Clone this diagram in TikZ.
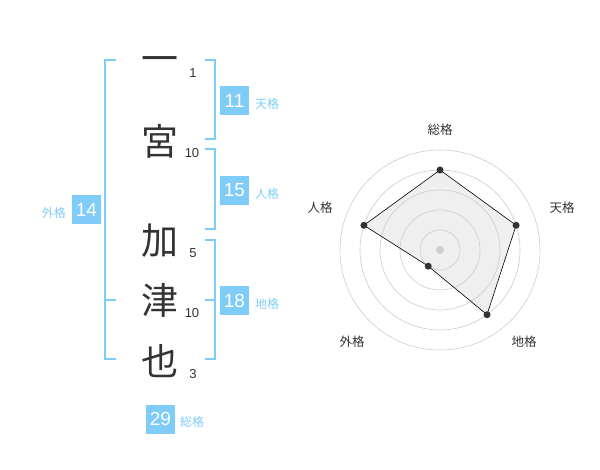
\documentclass[tikz,border=0pt]{standalone}
\usepackage{fontspec}
\setmainfont{Liberation Sans}
\newfontfamily\jpfont{Noto Sans CJK JP}
\definecolor{accent}{HTML}{80CCF8}
\definecolor{ink}{HTML}{333333}
\definecolor{ring}{HTML}{CCCCCC}
\definecolor{area}{HTML}{EFEFEF}
\begin{document}
\begin{tikzpicture}[x=1pt,y=-1pt,
  kanji/.style={font=\jpfont\fontsize{37}{37}\selectfont, text=ink, inner sep=0pt},
  strokes/.style={font=\fontsize{13}{13}\selectfont, text=ink, inner sep=0pt},
  numbox/.style={fill=accent, text=white, minimum width=29pt, minimum height=29pt, inner sep=0pt, font=\fontsize{19}{19}\selectfont},
  kaku/.style={font=\jpfont\fontsize{12}{12}\selectfont, text=accent, inner sep=0pt},
  bracket/.style={draw=accent, line width=1.6pt},
  axislabel/.style={font=\jpfont\fontsize{12.5}{12.5}\selectfont, text=ink, inner sep=0pt},
  dot/.style={circle, fill=ink, inner sep=0pt, minimum size=7pt}]
\useasboundingbox (0,0) rectangle (600,470);
% characters
\node[kanji] (c1) at (160,65) {一};
\node[kanji] (c2) at (160,141) {宮};
\node[kanji] (c3) at (160,241) {加};
\node[kanji] (c4) at (160,300) {津};
\node[kanji] (c5) at (160,361) {也};
\node[strokes] (s1) at (193,73) {1};
\node[strokes] (s2) at (192,153) {10};
\node[strokes] (s3) at (193,253) {5};
\node[strokes] (s4) at (192,313) {10};
\node[strokes] (s5) at (193,374) {3};
% brackets
\draw[bracket] (205,60) -- (215,60) -- (215,139) -- (205,139);
\draw[bracket] (205,149) -- (215,149) -- (215,229) -- (205,229);
\draw[bracket] (205,240) -- (215,240) -- (215,359) -- (205,359);
\draw[bracket] (205,300) -- (215,300);
\draw[bracket] (116,60) -- (105,60) -- (105,359) -- (116,359);
\draw[bracket] (105,300) -- (116,300);
% boxes
\node[numbox] (ten) at (234.5,100.5) {11};
\node[kaku, anchor=west] (tenl) at (255,104) {天格};
\node[numbox] (jin) at (234.5,190.5) {15};
\node[kaku, anchor=west] (jinl) at (255,194) {人格};
\node[numbox] (chi) at (234.5,300.5) {18};
\node[kaku, anchor=west] (chil) at (255,304) {地格};
\node[numbox] (gai) at (86.5,210) {14};
\node[kaku, anchor=east] (gail) at (66,213) {外格};
\node[numbox] (sou) at (160.5,419) {29};
\node[kaku, anchor=west] (soul) at (180,422) {総格};
% radar
\coordinate (o) at (440,250);
\begin{scope}[shift={(440,250)}, y=1pt]
\coordinate (pS) at (90:80);
\coordinate (pT) at (18:80);
\coordinate (pC) at (-54:80);
\coordinate (pG) at (-126:20);
\coordinate (pJ) at (162:80);
\end{scope}
\fill[area] (pS) -- (pT) -- (pC) -- (pG) -- (pJ) -- cycle;
\foreach \r in {20,40,60,80,100} \draw[ring, line width=0.6pt] (o) circle (\r);
\draw[black, line width=0.6pt] (pS) -- (pT) -- (pC) -- (pG) -- (pJ) -- cycle;
\node[circle, fill=ring, inner sep=0pt, minimum size=8pt] (ctr) at (o) {};
\foreach \p in {pS,pT,pC,pG,pJ} \node[dot] (d\p) at (\p) {};
\node[axislabel] (lS) at (440,130) {総格};
\node[axislabel] (lT) at (562,208) {天格};
\node[axislabel] (lC) at (524,342) {地格};
\node[axislabel] (lG) at (352,342) {外格};
\node[axislabel] (lJ) at (320,208) {人格};
\end{tikzpicture}
\end{document}
